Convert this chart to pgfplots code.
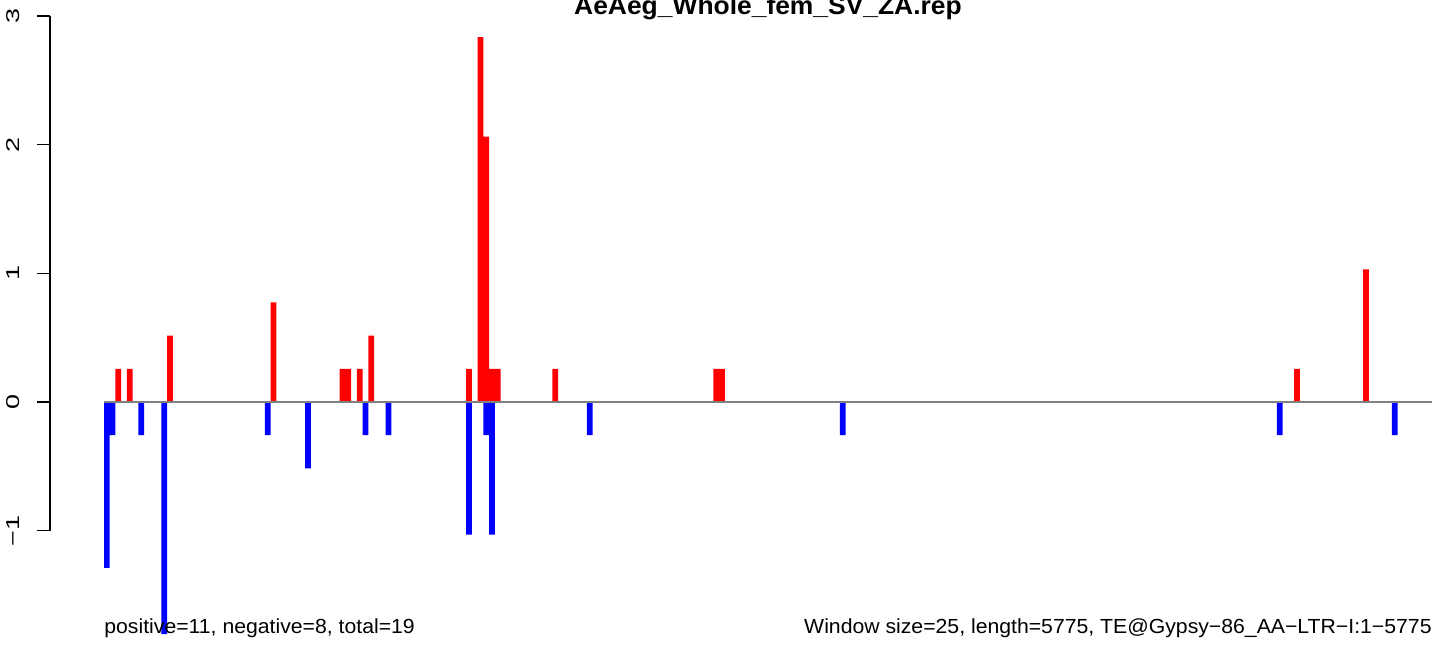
\documentclass[border=0pt]{standalone}
\usepackage{fontspec}
\setmainfont{Liberation Sans}
\newfontfamily\rfont{Liberation Sans}[FakeStretch=1.04]
\newfontfamily\rtick{Liberation Sans}[FakeStretch=1.45]
\usepackage{pgfplots}
\usepackage{pgfplotstable}
\pgfplotsset{compat=1.18}
\definecolor{zeroline}{HTML}{808080}

% window index (0-based, window size 25) and value
\pgfplotstableread{
x     y
2.5   0.2578
4.5   0.2578
11.5  0.5156
29.5  0.7734
41.5  0.2578
42.5  0.2578
44.5  0.2578
46.5  0.5156
63.5  0.2578
65.5  2.8358
66.5  2.0624
67.5  0.2578
68.5  0.2578
78.5  0.2578
106.5 0.2578
107.5 0.2578
207.5 0.2578
219.5 1.0312
}\positive

\pgfplotstableread{
x     y
0.5   -1.2890
1.5   -0.2578
6.5   -0.2578
10.5  -1.8046
28.5  -0.2578
35.5  -0.5156
45.5  -0.2578
49.5  -0.2578
63.5  -1.0312
66.5  -0.2578
67.5  -1.0312
84.5  -0.2578
128.5 -0.2578
204.5 -0.2578
224.5 -0.2578
}\negative

\begin{document}
\begin{tikzpicture}
\begin{axis}[
  at={(0pt,0pt)}, anchor=south west,
  scale only axis, width=722pt, height=328pt,
  xmin=-18.090, xmax=233.09, ymin=-1.974, ymax=3.124,
  hide axis, clip=false,
]
\addplot[ybar, bar width=1, bar shift=0pt, fill=red, draw=none] table {\positive};
\addplot[ybar, bar width=1, bar shift=0pt, fill=blue, draw=none] table {\negative};
\addplot[draw=zeroline, line width=0.6pt] coordinates {(0,0) (231,0)};
\node[anchor=base west, inner sep=0pt, font=\rfont\fontsize{10.2pt}{12pt}\selectfont] at (axis cs:0,-1.803) {positive=11, negative=8, total=19};
\node[anchor=base east, inner sep=0pt, font=\rfont\fontsize{10.2pt}{12pt}\selectfont] at (axis cs:231,-1.803) {Window size=25, length=5775, TE@Gypsy−86\_AA−LTR−I:1−5775};
\node[anchor=base, inner sep=0pt, font=\rfont\bfseries\fontsize{12.7pt}{14pt}\selectfont] at (axis cs:115.5,3.015) {AeAeg\_Whole\_fem\_SV\_ZA.rep};
\end{axis}
\begin{axis}[
  at={(25pt,62.65pt)}, anchor=south west,
  scale only axis, width=10pt, height=257.35pt,
  xmin=0, xmax=1, ymin=-1, ymax=3,
  axis y line=left, axis x line=none,
  y axis line style={-, line width=0.6pt},
  ytick={-1,0,1,2,3}, yticklabels={−1,0,1,2,3},
  tick align=outside, major tick length=6.5pt,
  ytick style={line width=0.6pt, black},
  yticklabel style={rotate=90, anchor=south, inner sep=0pt, font=\rtick\fontsize{9.3pt}{10pt}\selectfont},
  yticklabel shift=8.5pt,
]
\addplot[draw=none] coordinates {(0,0) (1,1)};
\end{axis}
\pgfresetboundingbox
\path[use as bounding box] (0pt,0pt) rectangle (722pt,328pt);
\end{tikzpicture}
\end{document}
